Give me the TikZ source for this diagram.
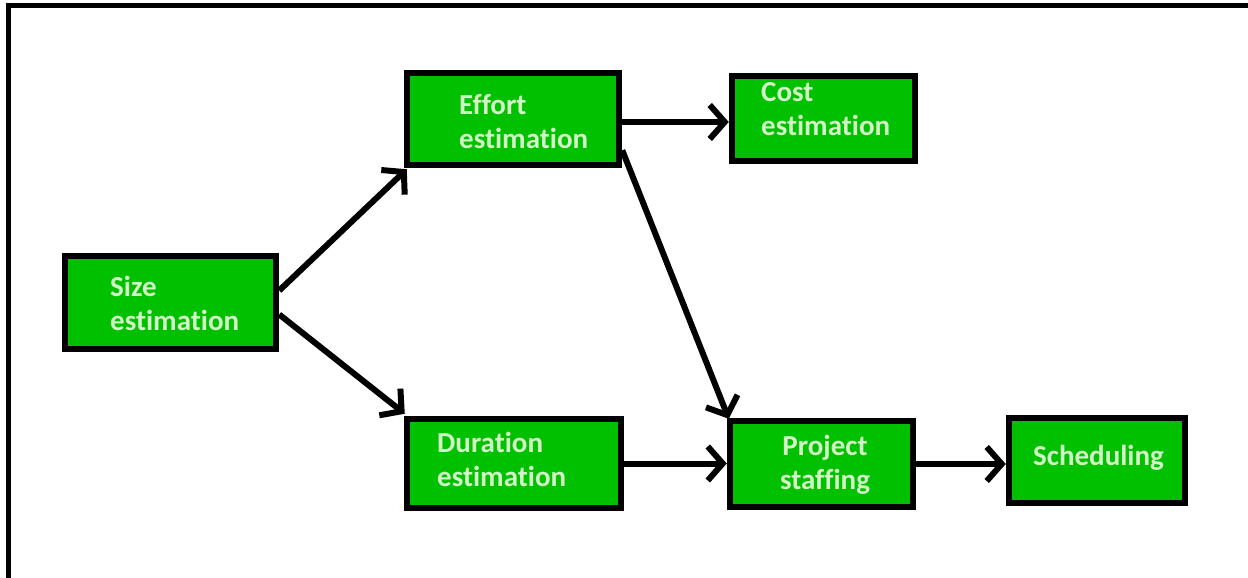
\documentclass[tikz,border=0pt]{standalone}
\usepackage{fontspec}
\setmainfont{Carlito}[Ligatures=NoCommon]
\usetikzlibrary{arrows.meta,calc}
\definecolor{boxgreen}{RGB}{0,192,0}
\definecolor{txtgreen}{RGB}{210,246,198}
\tikzset{
  stage/.style={draw=black, line width=6.5pt, fill=boxgreen, inner sep=0pt},
  lbl/.style={text=txtgreen, font=\bfseries\fontsize{29}{34}\selectfont, inner sep=0pt, align=left},
  flow/.style={line width=6pt, -{Straight Barb[length=15pt,width=34pt,line width=6pt]}},
  frame/.style={line width=5pt}
}
\begin{document}
\begin{tikzpicture}[x=1pt,y=-1pt]
\useasboundingbox (0,0) rectangle (1248,578);
% frame
\coordinate (fa) at (8,578);
\coordinate (fb) at (8,6);
\coordinate (fc) at (1248,6);
\draw[frame] (fa) -- (fb) -- (fc);
% boxes
\node[stage, minimum width=211pt, minimum height=93pt] (sz) at (170.5,302.5) {};
\node[stage, minimum width=212pt, minimum height=92pt] (ef) at (513,119) {};
\node[stage, minimum width=183pt, minimum height=85pt] (co) at (823.5,118.5) {};
\node[stage, minimum width=214pt, minimum height=89pt] (du) at (514,463.5) {};
\node[stage, minimum width=183pt, minimum height=86pt] (ps) at (821.5,464) {};
\node[stage, minimum width=176pt, minimum height=85pt] (sc) at (1097,460.5) {};
% labels
\node[lbl, anchor=north west] (szt) at (110,276) {Size\\estimation};
\node[lbl, anchor=north west] (eft) at (459,94) {Effort\\estimation};
\node[lbl, anchor=north west] (cot) at (761,82) {Cost\\estimation};
\node[lbl, anchor=north west] (dut) at (437,432) {Duration\\estimation};
\node[lbl, anchor=north, align=center] (pst) at (825,435) {Project\\staffing};
\node[lbl, anchor=north west] (sct) at (1033,445) {Scheduling};
% connectors
\draw[flow] ([yshift=12pt]sz.east) -- ([xshift=3pt,yshift=-1pt]ef.south west);
\draw[flow] ([yshift=-12pt]sz.east) -- ([xshift=1pt,yshift=2pt]du.north west);
\draw[flow] ([yshift=-3pt]ef.east) -- ([yshift=-3pt]ef.east -| co.west);
\draw[flow] ([yshift=18pt]ef.south east) -- ([xshift=2pt,yshift=-1pt]ps.north west);
\draw[flow] (du.east) -- (du.east -| ps.west);
\draw[flow] (ps.east) -- (ps.east -| sc.west);
\end{tikzpicture}
\end{document}
